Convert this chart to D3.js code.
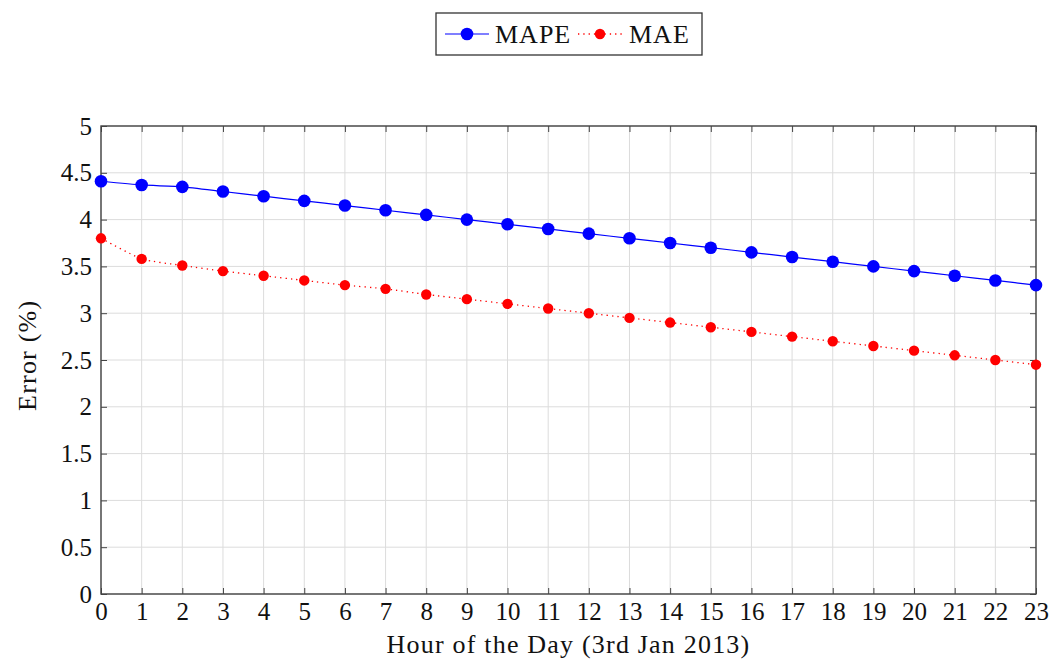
<!DOCTYPE html>
<html lang="en">
<head>
<meta charset="utf-8">
<script src="https://d3js.org/d3.v7.min.js"></script>
<style type="text/css">
body {
    margin: 0;
    background: #fff;
}
text {
    font-family: "Liberation Serif", "DejaVu Serif", serif;
    fill: #111;
}
.grid line {
    stroke: #dcdcdc;
    stroke-width: 1;
}
</style>
</head>
<body>
<div id="chart"></div>
<script type="text/javascript">

// values
var hours = d3.range(0, 24);
var mape = [4.41, 4.37, 4.35, 4.30, 4.25, 4.20, 4.15, 4.10, 4.05, 4.00, 3.95, 3.90,
            3.85, 3.80, 3.75, 3.70, 3.65, 3.60, 3.55, 3.50, 3.45, 3.40, 3.35, 3.30];
var mae = [3.80, 3.58, 3.51, 3.45, 3.40, 3.35, 3.30, 3.26, 3.20, 3.15, 3.10, 3.05,
           3.00, 2.95, 2.90, 2.85, 2.80, 2.75, 2.70, 2.65, 2.60, 2.55, 2.50, 2.45];
var yTicks = [0, 0.5, 1, 1.5, 2, 2.5, 3, 3.5, 4, 4.5, 5];
var seriesNames = ["MAPE", "MAE"];

var width = 1051, height = 661;
var margin = {left: 101, right: 15, top: 126, bottom: 67};

var svg = d3.select("#chart").append("svg")
    .attr("width", width)
    .attr("height", height);

var x = d3.scaleLinear().domain([0, 23]).range([margin.left, width - margin.right]);
var y = d3.scaleLinear().domain([0, 5]).range([height - margin.bottom, margin.top]);

// grid
var grid = svg.append("g").attr("class", "grid");
grid.selectAll(".vx").data(hours).enter().append("line")
    .attr("x1", function(d) { return x(d); }).attr("x2", function(d) { return x(d); })
    .attr("y1", y(0)).attr("y2", y(5));
grid.selectAll(".hy").data(yTicks).enter().append("line")
    .attr("y1", function(d) { return y(d); }).attr("y2", function(d) { return y(d); })
    .attr("x1", x(0)).attr("x2", x(23));

// axes, ticks pointing inward on all four sides
var axisColor = "#444";
function styleAxis(g) {
    g.select(".domain").remove();
    g.selectAll(".tick line").attr("stroke", axisColor).attr("stroke-width", 1);
    g.selectAll(".tick text").style("font-size", "25px").attr("fill", "#111");
}
svg.append("g")
    .attr("transform", "translate(0," + y(0) + ")")
    .call(d3.axisBottom(x).tickValues(hours).tickFormat(d3.format("d")).tickSizeInner(-6).tickPadding(8))
    .call(styleAxis);
svg.append("g")
    .attr("transform", "translate(0," + y(5) + ")")
    .call(d3.axisTop(x).tickValues(hours).tickSizeInner(-6).tickFormat(""))
    .call(styleAxis);
svg.append("g")
    .attr("transform", "translate(" + x(0) + ",0)")
    .call(d3.axisLeft(y).tickValues(yTicks).tickFormat(d3.format("")).tickSizeInner(-6).tickPadding(9))
    .call(styleAxis);
svg.append("g")
    .attr("transform", "translate(" + x(23) + ",0)")
    .call(d3.axisRight(y).tickValues(yTicks).tickSizeInner(-6).tickFormat(""))
    .call(styleAxis);

svg.append("rect")
    .attr("x", x(0)).attr("y", y(5))
    .attr("width", x(23) - x(0)).attr("height", y(0) - y(5))
    .attr("fill", "none").attr("stroke", axisColor).attr("stroke-width", 1.4);

// series
var line = d3.line()
    .x(function(d, i) { return x(hours[i]); })
    .y(function(d) { return y(d); })
    .curve(d3.curveCardinal.tension(0.45));

svg.append("path").datum(mape)
    .attr("d", line).attr("fill", "none")
    .attr("stroke", "#0000ff").attr("stroke-width", 1.2);
svg.append("path").datum(mae)
    .attr("d", line).attr("fill", "none")
    .attr("stroke", "#ff0000").attr("stroke-width", 1.3)
    .attr("stroke-dasharray", "1.3,4");

svg.selectAll(".mape").data(mape).enter().append("circle")
    .attr("cx", function(d, i) { return x(hours[i]); })
    .attr("cy", function(d) { return y(d); })
    .attr("r", 6.3).attr("fill", "#0000ff");
svg.selectAll(".mae").data(mae).enter().append("circle")
    .attr("cx", function(d, i) { return x(hours[i]); })
    .attr("cy", function(d) { return y(d); })
    .attr("r", 5.2).attr("fill", "#ff0000");

// axis labels
svg.append("text")
    .attr("x", (x(0) + x(23)) / 2).attr("y", 653)
    .attr("text-anchor", "middle").style("font-size", "26px").style("letter-spacing", "1.2px")
    .text("Hour of the Day (3rd Jan 2013)");
svg.append("text")
    .attr("transform", "translate(36," + y(2.55) + ") rotate(-90)")
    .attr("text-anchor", "middle").style("font-size", "26px").style("letter-spacing", "1.2px")
    .text("Error (%)");

// legend
var legend = svg.append("g");
legend.append("rect")
    .attr("x", 436).attr("y", 13).attr("width", 266).attr("height", 42)
    .attr("fill", "#fff").attr("stroke", "#333").attr("stroke-width", 1.3);
legend.append("line")
    .attr("x1", 445).attr("x2", 489).attr("y1", 34).attr("y2", 34)
    .attr("stroke", "#0000ff").attr("stroke-width", 1.2);
legend.append("circle").attr("cx", 467).attr("cy", 34).attr("r", 6.3).attr("fill", "#0000ff");
legend.append("text").attr("x", 495).attr("y", 43).style("font-size", "26px").style("letter-spacing", "1px").text(seriesNames[0]);
legend.append("line")
    .attr("x1", 578).attr("x2", 622).attr("y1", 34).attr("y2", 34)
    .attr("stroke", "#ff0000").attr("stroke-width", 1.3).attr("stroke-dasharray", "1.3,4");
legend.append("circle").attr("cx", 600).attr("cy", 34).attr("r", 5.2).attr("fill", "#ff0000");
legend.append("text").attr("x", 629).attr("y", 43).style("font-size", "26px").style("letter-spacing", "1px").text(seriesNames[1]);

</script>
</body>
</html>
